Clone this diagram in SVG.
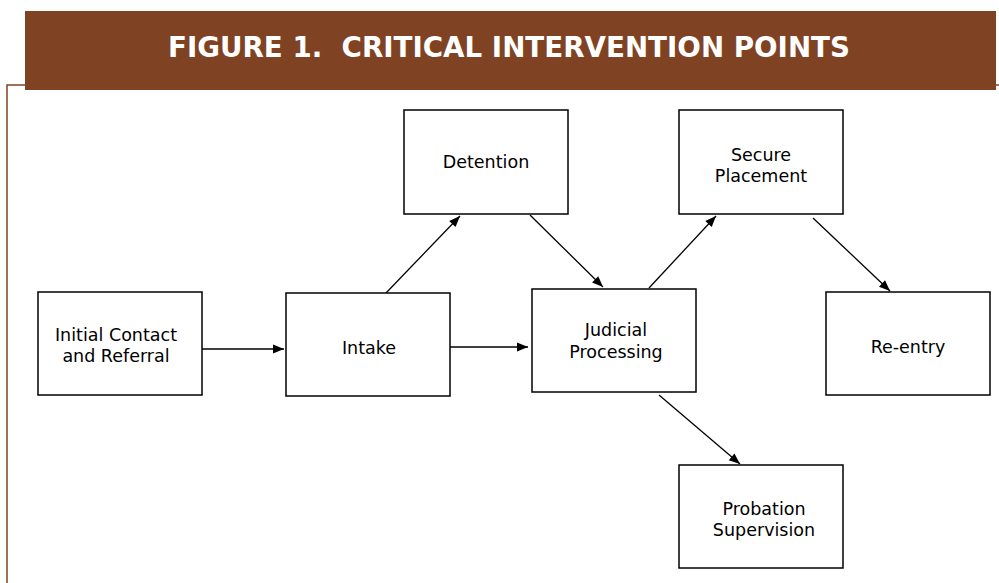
<svg xmlns="http://www.w3.org/2000/svg" width="999" height="583" viewBox="0 0 999 583">
<style>
.box{fill:#fff;stroke:#000;stroke-width:1.5}
.lbl{font-family:"DejaVu Sans",Verdana,sans-serif;font-size:17.5px;fill:#000;text-anchor:middle}
.title{font-family:"DejaVu Sans",Verdana,sans-serif;font-size:27.5px;font-weight:bold;fill:#fff;text-anchor:middle;white-space:pre}
.edge{stroke:#000;stroke-width:1.3;fill:none;marker-end:url(#ah)}
.frame{stroke:#7f4324;stroke-width:1.5;fill:none}
</style>
<defs>
<marker id="ah" viewBox="0 0 10 10" refX="10" refY="5" markerWidth="15" markerHeight="11" markerUnits="userSpaceOnUse" orient="auto">
<path d="M0,1 L10,5 L0,9 z" fill="#000"/>
</marker>
</defs>
<rect width="999" height="583" fill="#fff"/>
<g id="frame">
<path class="frame" d="M7,583 L7,85 L999,85"/>
</g>
<g id="banner">
<rect x="25" y="11" width="971" height="79" fill="#7f4324"/>
<text class="title" x="509" y="57" textLength="682" lengthAdjust="spacingAndGlyphs" xml:space="preserve">FIGURE 1.  CRITICAL INTERVENTION POINTS</text>
</g>
<g id="connectors">
<line class="edge" x1="202" y1="349" x2="284" y2="349"/>
<line class="edge" x1="450" y1="347" x2="528" y2="347"/>
<line class="edge" x1="386" y1="293" x2="460" y2="216"/>
<line class="edge" x1="530" y1="215" x2="603" y2="287"/>
<line class="edge" x1="649" y1="288" x2="716" y2="216"/>
<line class="edge" x1="813" y1="218" x2="890" y2="291"/>
<line class="edge" x1="659" y1="395" x2="740" y2="464"/>
</g>
<g id="initial">
<rect class="box" x="38" y="292" width="164" height="103"/>
<text class="lbl" x="116" y="341">Initial Contact</text>
<text class="lbl" x="116" y="362">and Referral</text>
</g>
<g id="intake">
<rect class="box" x="286" y="293" width="164" height="103"/>
<text class="lbl" x="369" y="354">Intake</text>
</g>
<g id="detention">
<rect class="box" x="404" y="110" width="164" height="104"/>
<text class="lbl" x="486" y="168">Detention</text>
</g>
<g id="judicial">
<rect class="box" x="532" y="289" width="164" height="103"/>
<text class="lbl" x="616" y="336">Judicial</text>
<text class="lbl" x="616" y="358">Processing</text>
</g>
<g id="secure">
<rect class="box" x="679" y="110" width="164" height="104"/>
<text class="lbl" x="761" y="161">Secure</text>
<text class="lbl" x="761" y="182">Placement</text>
</g>
<g id="reentry">
<rect class="box" x="826" y="292" width="164" height="103"/>
<text class="lbl" x="908" y="353">Re-entry</text>
</g>
<g id="probation">
<rect class="box" x="679" y="465" width="164" height="103"/>
<text class="lbl" x="764" y="515">Probation</text>
<text class="lbl" x="764" y="536">Supervision</text>
</g>
</svg>
